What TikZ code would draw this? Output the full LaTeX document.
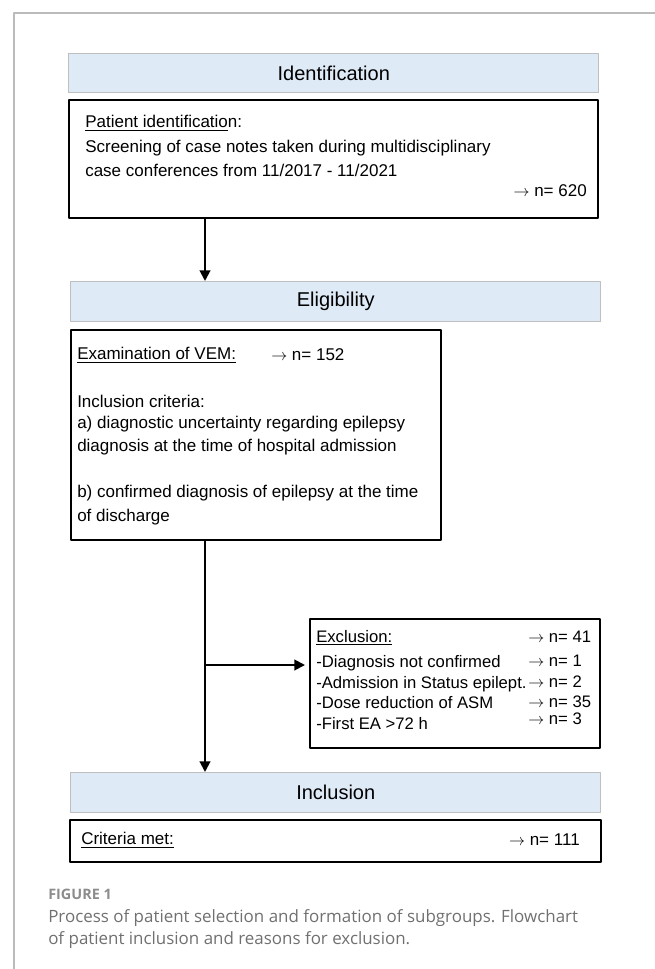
\documentclass[tikz,border=0pt]{standalone}
\usepackage{fontspec}
\setmainfont{Liberation Sans}
\newfontfamily\capfont{Open Sans}
\usetikzlibrary{arrows.meta,positioning}
\definecolor{headfill}{HTML}{DEEAF6}
\definecolor{headline}{HTML}{BFBFBF}
\definecolor{framegray}{HTML}{BBBBBB}
\definecolor{capgray}{HTML}{707070}
\definecolor{figgray}{HTML}{8C8C8C}
\newcommand\nto{$\rightarrow$}
\tikzset{
  head/.style={draw=headline, fill=headfill, line width=1.1pt, anchor=north west,
    inner sep=0pt, font=\fontsize{15}{18}\selectfont},
  infobox/.style={draw, line width=1.5pt, anchor=north west, inner sep=0pt},
  txt/.style={anchor=west, inner sep=0pt, font=\fontsize{12.75}{15}\selectfont},
  num/.style={anchor=east, inner sep=0pt, font=\fontsize{12.75}{15}\selectfont},
  exitem/.style={txt, font=\fontsize{12.5}{15}\selectfont, text height=9pt, text depth=2.5pt},
  link/.style={line width=1.5pt, ->},
  captxt/.style={anchor=west, inner sep=0pt, text=capgray, font=\capfont\fontsize{12.7}{16}\selectfont},
}
\begin{document}
\begin{tikzpicture}[x=0.75pt,y=-0.75pt,>={Triangle[width=8pt,length=8pt]},line join=round]
\useasboundingbox (0,0) rectangle (655,969);
% frame of the figure
\draw[framegray,line width=0.8pt] (14,969) -- (14,13) -- (655,13);
\coordinate (trunk) at (205,0);

% identification
\node[head,minimum width=530*0.75pt,minimum height=39*0.75pt] (idhead) at (68,53) {Identification};
\node[infobox,minimum width=529*0.75pt,minimum height=118*0.75pt] (pidbox) at (68,99) {};
\node[txt] (pidtitle) at (85,123) {\underline{Patient identificatio}n:};
\node[txt] (pidline1) at (85,148) {Screening of case notes taken during multidisciplinary};
\node[txt] (pidline2) at (85,170) {case conferences from 11/2017 - 11/2021};
\node[num] (pidn) at (587,191) {\nto{} n= 620};

% eligibility
\node[head,minimum width=530*0.75pt,minimum height=40*0.75pt] (elihead) at (70,281) {Eligibility};
\node[infobox,minimum width=370*0.75pt,minimum height=210*0.75pt] (vembox) at (70,329) {};
\node[txt] (vemtitle) at (77,355) {\underline{Examination of VEM:}};
\node[txt] (vemn) at (271,355) {\nto{} n= 152};
\node[txt] (crit) at (77,401) {Inclusion criteria:};
\node[txt] (crita1) at (77,424) {a) diagnostic uncertainty regarding epilepsy};
\node[txt] (crita2) at (77,447) {diagnosis at the time of hospital admission};
\node[txt] (critb1) at (77,493) {b) confirmed diagnosis of epilepsy at the time};
\node[txt] (critb2) at (77,517) {of discharge};

% exclusion
\node[infobox,minimum width=290*0.75pt,minimum height=129*0.75pt] (exbox) at (309,618) {};
\node[exitem] (extitle) at (316,638) {\underline{Exclusion:}};
\node[exitem] (exn) at (528,638) {\nto{} n= 41};
\foreach \reason/\count/\yr/\yn [count=\i] in {
  -Diagnosis not confirmed/1/663/662,
  -Admission in Status epilept./2/684/683,
  -Dose reduction of ASM/35/704/703,
  -First EA >72 h/3/725/720}{
  \node[exitem] (reason\i) at (316,\yr) {\reason};
  \node[exitem] (count\i) at (528,\yn) {\nto{} n= \count};
}

% inclusion
\node[head,minimum width=530*0.75pt,minimum height=40*0.75pt] (inhead) at (70,772) {Inclusion};
\node[infobox,minimum width=531*0.75pt,minimum height=42*0.75pt] (metbox) at (69,819) {};
\node[txt] (mettitle) at (81,840) {\underline{Criteria met:}};
\node[num] (metn) at (580,840) {\nto{} n= 111};

% connectors
\coordinate (branch) at (205,665);
\draw[link] (pidbox.south -| trunk) -- (elihead.north -| trunk);
\draw[link] (vembox.south -| trunk) -- (inhead.north -| trunk);
\draw[link,shorten >=3pt] (branch) -- (branch -| exbox.west);

% caption
\node[anchor=west,inner sep=0pt,text=figgray,font=\capfont\bfseries\fontsize{10.8}{13}\selectfont] (figlabel) at (48,894) {FIGURE 1};
\node[captxt] (capline1) at (48,918) {Process of patient selection and formation of subgroups. Flowchart};
\node[captxt] (capline2) at (48,940) {of patient inclusion and reasons for exclusion.};
\end{tikzpicture}
\end{document}
